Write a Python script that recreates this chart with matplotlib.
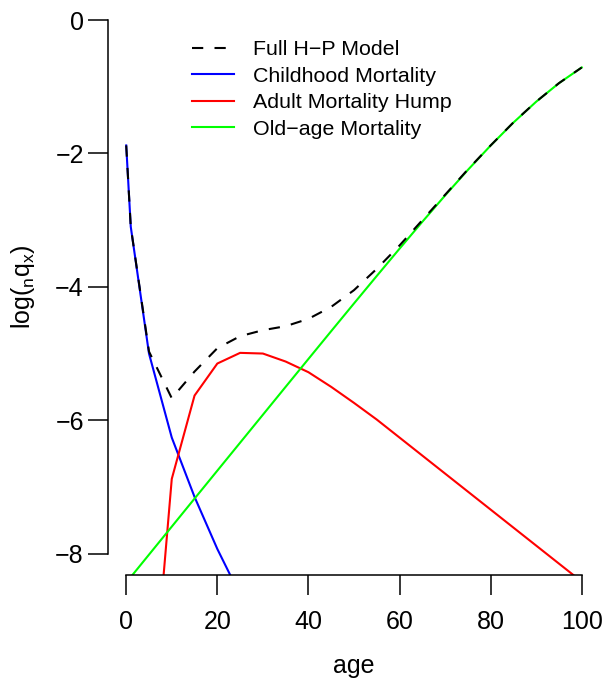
import numpy as np
import matplotlib
matplotlib.use("Agg")
import matplotlib.pyplot as plt

plt.rcParams["font.family"] = ["Liberation Sans", "DejaVu Sans"]
plt.rcParams["mathtext.fontset"] = "custom"
plt.rcParams["mathtext.rm"] = "Liberation Sans"
plt.rcParams["mathtext.it"] = "Liberation Sans"

ages = [0, 1, 5, 10, 15, 20, 25, 30, 35, 40, 45, 50, 55, 60, 65, 70, 75, 80, 85, 90, 95, 100]

full_model = [-1.88, -3.10, -4.97, -5.67, -5.27, -4.92, -4.74, -4.65, -4.59, -4.48, -4.30,
              -4.05, -3.73, -3.38, -3.00, -2.62, -2.24, -1.88, -1.535, -1.223, -0.946, -0.711]
childhood = [-1.88, -3.10, -5.00, -6.26, -7.15, -7.93, -8.62, -9.25, -9.85, -10.4, -10.9,
             -11.4, -11.85, -12.3, -12.7, -13.1, -13.5, -13.9, -14.25, -14.6, -14.95, -15.3]
adult_hump = [np.nan, -35.0, -10.9, -6.88, -5.63, -5.15, -4.99, -5.00, -5.12, -5.28, -5.50,
              -5.74, -5.99, -6.26, -6.53, -6.80, -7.07, -7.34, -7.61, -7.88, -8.15, -8.42]
old_age = [-8.435, -8.351, -8.015, -7.595, -7.175, -6.756, -6.337, -5.918, -5.499, -5.081, -4.664,
           -4.249, -3.837, -3.428, -3.025, -2.630, -2.247, -1.881, -1.537, -1.224, -0.946, -0.711]

fig = plt.figure(figsize=(6.05, 6.84), dpi=100)
ax = fig.add_axes([0.1785, 0.1594, 0.8132, 0.8425])

ax.plot(ages, childhood, color="#0000FF", lw=1.5, label="Childhood Mortality")
ax.plot(ages, adult_hump, color="#FF0000", lw=1.5, label="Adult Mortality Hump")
ax.plot(ages, old_age, color="#00FF00", lw=1.5, label="Old\u2212age Mortality")
ax.plot(ages, full_model, color="black", lw=1.5, ls=(0, (5.4, 5.4)), label="Full H\u2212P Model")

ax.set_xlim(-4, 104)
ax.set_ylim(-8.32, 0.32)
ax.set_xticks([0, 20, 40, 60, 80, 100])
ax.set_yticks([0, -2, -4, -6, -8])

for s in ["top", "right"]:
    ax.spines[s].set_visible(False)
ax.spines["left"].set_bounds(-8, 0)
ax.spines["bottom"].set_bounds(0, 100)
for s in ["left", "bottom"]:
    ax.spines[s].set_linewidth(1.1)

ax.tick_params(axis="both", length=14.4, width=1.1, labelsize=18, direction="out")
ax.tick_params(axis="x", pad=11)
ax.tick_params(axis="y", pad=3)

ax.set_xlabel("age", fontsize=18, labelpad=14)
ax.set_ylabel(r"$\mathrm{log(}{}_{\mathrm{n}}\mathrm{q}_{\mathrm{x}}\mathrm{)}$", fontsize=18, labelpad=13)

handles, labels = ax.get_legend_handles_labels()
order = [3, 0, 1, 2]
ax.legend([handles[i] for i in order], [labels[i] for i in order],
          loc="upper left", bbox_to_anchor=(0.317, 0.9415), bbox_transform=fig.transFigure,
          frameon=False, fontsize=15.4, handlelength=1.96, handletextpad=0.89,
          labelspacing=0.355, borderpad=0, borderaxespad=0)

fig.savefig("out.png", dpi=100)
